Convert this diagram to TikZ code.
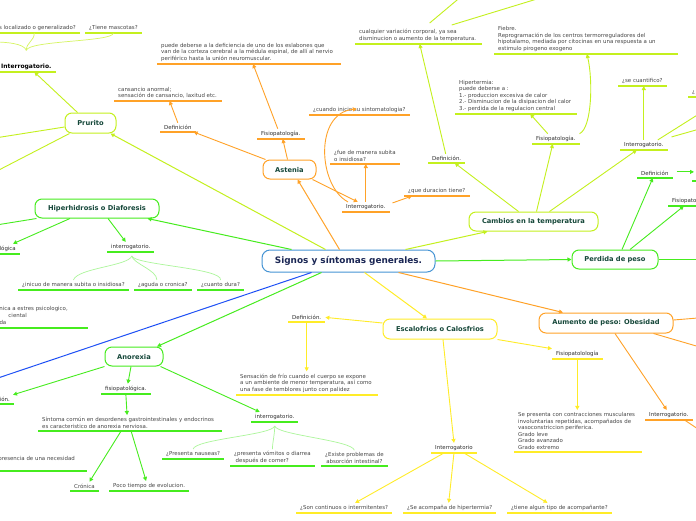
\documentclass[tikz,border=0pt]{standalone}
\usepackage{fontspec}
\setmainfont{DejaVu Sans}
\usetikzlibrary{arrows.meta,calc}
\definecolor{cLime}{RGB}{196,240,30}
\definecolor{cOrange}{RGB}{255,162,40}
\definecolor{cGreen}{RGB}{70,236,30}
\definecolor{cYellow}{RGB}{255,236,40}
\definecolor{cBlue}{RGB}{30,80,245}
\definecolor{cBlueB}{RGB}{70,148,212}
\definecolor{tTopic}{RGB}{22,72,58}
\definecolor{tMain}{RGB}{26,38,84}
\definecolor{tText}{RGB}{70,70,70}
\definecolor{tLab}{RGB}{45,45,45}
\tikzset{
 topic/.style={draw=#1, line width=1pt, rounded corners=7pt, fill=white, font=\fontsize{6.7}{8}\selectfont\bfseries, text=tTopic, inner sep=0pt, minimum height=19pt},
 leaf/.style={font=\fontsize{5.45}{6.7}\selectfont, text=tText, align=left, inner xsep=4pt, inner ysep=2.2pt, anchor=south west},
 lab/.style={leaf, text=tLab},
 ul/.style={line width=1.6pt},
 arr/.style={line width=0.9pt, -{Triangle[length=4pt,width=4pt]}},
 ln/.style={line width=0.9pt},
 lc/.style={line width=0.7pt},
}
\begin{document}
\begin{tikzpicture}[x=1pt,y=-1pt]
\useasboundingbox (0,0) rectangle (696,520);
\fill[white] (0,0) rectangle (696,520);
\clip (0,0) rectangle (696,520);

% ---------- topics ----------
\node[topic=cBlueB, minimum width=173pt, minimum height=22pt, rounded corners=8pt, font=\fontsize{8.9}{10}\selectfont\bfseries, text=tMain] (central) at (348.5,261) {Signos y síntomas generales.};
\node[topic=cLime, minimum width=51pt, minimum height=20pt] (prurito) at (90.5,123) {Prurito};
\node[topic=cOrange, minimum width=53pt] (astenia) at (289.5,169.5) {Astenia};
\node[topic=cGreen, minimum width=124pt] (hiper) at (97,208.5) {Hiperhidrosis o Diaforesis};
\node[topic=cLime, minimum width=129pt] (cambios) at (533.5,221.5) {Cambios en la temperatura};
\node[topic=cGreen, minimum width=86pt] (perdida) at (615,259.5) {Perdida de peso};
\node[topic=cOrange, minimum width=134pt, minimum height=20pt] (aumento) at (606,323) {Aumento de peso: Obesidad};
\node[topic=cYellow, minimum width=114pt, minimum height=20pt] (escal) at (440,329) {Escalofrios o Calosfrios};
\node[topic=cGreen, minimum width=58pt] (anorexia) at (134,356.5) {Anorexia};

% ---------- Prurito ----------
\node[lab, font=\fontsize{6}{7}\selectfont\bfseries, text=black] (pI) at (-3,72) {Interrogatorio.};
\node[leaf, anchor=south east] (pQ1) at (80,33) {¿Es localizado o generalizado?};
\node[leaf] (pQ2) at (85,33) {¿Tiene mascotas?};

% ---------- Astenia ----------
\node[lab] (aDef) at (160,132) {Definición};
\node[leaf] (aDefT) at (114,101) {cansancio anormal;\\sensación de cansancio, laxitud etc.};
\node[lab] (aFis) at (257,139) {Fisiopatología.};
\node[leaf] (aFisT) at (157,64) {puede deberse a la deficiencia de uno de los eslabones que\\van de la corteza cerebral a la médula espinal, de allí al nervio\\periférico hasta la unión neuromuscular.};
\node[lab] (aInt) at (342,212) {Interrogatorio.};
\node[leaf] (aQ1) at (330,164) {¿fue de manera subita\\o insidiosa?};
\node[leaf] (aQ2) at (309,115) {¿cuando inicio su sintomatologia?};
\node[leaf] (aQ3) at (404,196) {¿que duracion tiene?};

% ---------- Cambios ----------
\node[lab] (cDef) at (428,163) {Definición.};
\node[leaf] (cDefT) at (355,44) {cualquier variación corporal, ya sea\\disminucion o aumento de la temperatura.};
\node[lab] (cFis) at (532,144) {Fisiopatología.};
\node[leaf, font=\fontsize{5.45}{6.5}\selectfont] (cFisT1) at (455,114) {Hipertermia:\\puede deberse a :\\1.- produccion excesiva de calor\\2.- Disminucion de la disipacion del calor\\3.- perdida de la regulacion central};
\node[leaf] (cFisT2) at (494,54) {Fiebre.\\Reprogramación de los centros termorreguladores del\\hipotalamo, mediada por citocinas en una respuesta a un\\estimulo pirogeno exogeno};
\node[lab] (cInt) at (620,150) {Interrogatorio.};
\node[leaf] (cQ1) at (618,86) {¿se cuantifico?};
\node[leaf] (cQ2) at (688,97) {¿};

% ---------- Perdida ----------
\node[lab] (pdDef) at (637,178) {Definición};
\node[lab] (pdFis) at (668,206) {Fisiopatología};

% ---------- Aumento ----------
\node[lab] (auInt) at (645,420) {Interrogatorio.};

% ---------- Escalofrios ----------
\node[lab] (eDef) at (288,322) {Definición.};
\node[leaf] (eDefT) at (236,395) {Sensación de frío cuando el cuerpo se expone\\a un ambiente de menor temperatura, así como\\una fase de temblores junto con palidez};
\node[lab] (eFis) at (552,359) {Fisiopatolología};
\node[leaf, font=\fontsize{5.45}{6.6}\selectfont] (eFisT) at (514,452) {Se presenta con contracciones musculares\\involuntarias repetidas, acompañados de\\vasoconstriccion periferica.\\Grado leve\\Grado avanzado\\Grado extremo};
\node[lab] (eInt) at (431,453) {Interrogatorio};
\node[leaf] (eQ1) at (296,513) {¿Son continuos o intermitentes?};
\node[leaf] (eQ2) at (403,513) {¿Se acompaña de hipertermia?};
\node[leaf] (eQ3) at (507,513) {¿tiene algun tipo de acompañante?};

% ---------- Hiperhidrosis ----------
\node[lab, anchor=south east] (hFis) at (20,254) {Fisiopatológica};
\node[lab] (hInt) at (107,252) {interrogatorio.};
\node[leaf] (hQ1) at (18,290) {¿inicuo de manera subita o insidiosa?};
\node[leaf] (hQ2) at (134,290) {¿aguda o cronica?};
\node[leaf] (hQ3) at (197,290) {¿cuanto dura?};
\node[leaf, anchor=east] (hT1) at (72,309) {crónica a estres psicologico,};
\node[leaf, anchor=east] (hT2) at (31,315.5) {ciental};
\node[leaf, anchor=east] (hT3) at (10.5,322) {da};
\coordinate (hTa) at (-5,328);
\coordinate (hTb) at (88,328);

% ---------- Anorexia ----------
\node[lab, anchor=south east] (anDef) at (14,404) {Definición.};
\node[lab] (anFis) at (101,394) {fisiopatológica.};
\node[leaf] (anFisT) at (38,431) {Síntoma común en desordenes gastrointestinales y endocrinos\\es caracteristico de anorexia nerviosa.};
\node[leaf] (anC) at (70,491) {Crónica};
\node[leaf] (anP) at (109,491) {Poco tiempo de evolucion.};
\node[leaf, anchor=east] (anL) at (79,459) {presencia de una necesidad};
\coordinate (anLa) at (-5,471);
\coordinate (anLb) at (87,471);
\node[lab] (anInt) at (251,422) {interrogatorio.};
\node[leaf] (anQ1) at (162,459) {¿Presenta nauseas?};
\node[leaf] (anQ2) at (230,466) {¿presenta vómitos o diarrea\\\hspace*{1.5pt}después de comer?};
\node[leaf, align=center] (anQ3) at (321,466) {¿Existe problemas de\\absorción intestinal?};

% ---------- underlines ----------
\foreach \n/\c in {pI/cLime,pQ1/cLime,pQ2/cLime,
  aDef/cOrange,aFis/cOrange,aInt/cOrange,aQ1/cOrange,aQ2/cOrange,aQ3/cOrange,
  cDef/cLime,cFis/cLime,cInt/cLime,cQ1/cLime,cQ2/cLime,
  pdDef/cGreen,pdFis/cGreen,auInt/cOrange,
  eDef/cYellow,eFis/cYellow,eInt/cYellow,eQ1/cYellow,eQ2/cYellow,eQ3/cYellow,
  hFis/cGreen,hInt/cGreen,hQ1/cGreen,hQ2/cGreen,hQ3/cGreen,
  anDef/cGreen,anFis/cGreen,anC/cGreen,anP/cGreen,anInt/cGreen,anQ1/cGreen,anQ2/cGreen,anQ3/cGreen}
  \draw[ul,draw=\c] (\n.south west) -- (\n.south east);
% long texts: underlines of measured length
\foreach \n/\c/\w in {aDefT/cOrange/108, aFisT/cOrange/184, cDefT/cLime/127, cFisT1/cLime/122,
  cFisT2/cLime/184, eDefT/cYellow/142, eFisT/cYellow/128, anFisT/cGreen/184}
  \draw[ul,draw=\c] (\n.south west) -- ([xshift=\w pt]\n.south west);
\draw[ul,cGreen] (hTa) -- (hTb);
\draw[ul,cGreen] (anLa) -- (anLb);

% ---------- off-picture coordinates ----------
\coordinate (offPa) at (-5,138);
\coordinate (offPb) at (-5,172);
\coordinate (offPI) at (-5,42);
\coordinate (offBl) at (-5,379);
\coordinate (offCa) at (463,-5);
\coordinate (offCb) at (550,-5);
\coordinate (offIa) at (710,107);
\coordinate (offIb) at (710,126);
\coordinate (pdDefOff) at (694,171);
\coordinate (pdUa) at (692,181);
\coordinate (pdUb) at (700,181);
\coordinate (offPd) at (700,259.5);
\coordinate (offAa) at (710,317);
\coordinate (offAb) at (710,350);
\coordinate (offAc) at (710,437);
\coordinate (offH) at (-10,226);

% ---------- connectors from the centre ----------
\draw[arr,cLime,line width=1pt] ([xshift=64pt]central.north west) -- ([xshift=-6pt]prurito.south east);
\draw[arr,cGreen,line width=1pt] ([xshift=30pt]central.north west) -- ([xshift=-12pt]hiper.south east);
\draw[arr,cOrange,line width=1pt] ([xshift=78pt]central.north west) -- ([xshift=8pt]astenia.south);
\draw[arr,cLime,line width=1pt] ([xshift=-30pt]central.north east) -- ([xshift=-46pt]cambios.south);
\draw[arr,cGreen,line width=1pt] (central.east) -- (perdida.west);
\draw[arr,cOrange,line width=1pt] ([xshift=-37pt]central.south east) -- ([xshift=-43pt]aumento.north);
\draw[arr,cYellow,line width=1pt] ([xshift=103pt]central.south west) -- ([xshift=-13pt]escal.north);
\draw[arr,cGreen,line width=1pt] ([xshift=60pt]central.south west) -- ([xshift=23pt]anorexia.north);
\draw[ln,cBlue,line width=1pt] ([xshift=50pt]central.south west) -- (offBl);

% ---------- Prurito ----------
\draw[arr,cLime] ([xshift=-13pt]prurito.north) -- ([xshift=8pt]pI.south);
\draw[ln,cLime] ([yshift=-4pt]prurito.west) -- (offPa);
\draw[ln,cLime] ([xshift=5pt]prurito.south west) -- (offPb);
\coordinate (pIc) at ([yshift=11pt]pI.north);
\draw[lc,cLime!70] (pIc) .. controls +(0,-8) and +(0,8) .. (pQ1.south);
\draw[lc,cLime!70] (pIc) .. controls +(2,-10) and +(0,9) .. (pQ2.south);
\draw[lc,cLime!70] (pIc) .. controls +(-2,-7) and +(10,0) .. (offPI);

% ---------- Astenia ----------
\draw[arr,cOrange] ([xshift=3pt]astenia.north west) -- ([xshift=-2pt]aDef.south east);
\draw[arr,cOrange] (aDef.north) -- ([xshift=2pt]aDefT.south);
\draw[arr,cOrange] ([xshift=-2pt]astenia.north) -- ([xshift=2pt]aFis.south);
\draw[arr,cOrange] ([xshift=-3pt]aFis.north) -- ([xshift=6pt]aFisT.south);
\draw[arr,cOrange] ([xshift=-4pt]astenia.south east) -- ([xshift=-8pt]aInt.north);
\draw[arr,cOrange] (aInt.north) -- (aInt.north |- aQ1.south);
\draw[arr,cOrange] ([xshift=6pt]aInt.north west) .. controls (318,186) and (314,113) .. ([xshift=-2.5pt,yshift=6pt]aQ2.south);
\draw[arr,cOrange] ([xshift=3pt,yshift=-1pt]aInt.north east) -- ([xshift=8pt]aQ3.south west);

% ---------- Cambios ----------
\draw[arr,cLime] ([xshift=-15pt]cambios.north) -- ([xshift=8pt]cDef.south);
\draw[arr,cLime] ([xshift=-1pt]cDef.north) -- ([xshift=2pt]cDefT.south);
\draw[ln,cLime] ([xshift=12pt,yshift=4pt]cDefT.north) -- (offCa);
\draw[ln,cLime] ([xshift=34pt,yshift=2pt]cDefT.north) -- (offCb);
\draw[arr,cLime] ([xshift=3pt]cambios.north) -- ([xshift=-3pt]cFis.south);
\draw[arr,cLime] ([xshift=-8pt]cFis.north) -- ([xshift=15pt]cFisT1.south);
\draw[arr,cLime] (cFis.north east) .. controls (592,128) and (593,80) .. ([xshift=10pt]cFisT2.south);
\draw[arr,cLime] ([xshift=16pt]cambios.north) -- ([xshift=-7pt]cInt.south);
\draw[arr,cLime] (cInt.north) -- (cInt.north |- cQ1.south);
\draw[ln,cLime] ([xshift=14pt]cInt.north) -- (offIa);
\draw[ln,cLime] ([xshift=4pt,yshift=3pt]cInt.north east) -- (offIb);

% ---------- Perdida ----------
\draw[arr,cGreen] ([xshift=7pt]perdida.north) -- ([xshift=-2pt]pdDef.south);
\draw[arr,cGreen] ([xshift=15pt]perdida.north) -- ([xshift=-7pt]pdFis.south);
\draw[arr,cGreen] ([xshift=4pt,yshift=1.5pt]pdDef.east) -- ([yshift=1.5pt]pdDef.east -| pdDefOff);
\draw[ul,cGreen] (pdUa) -- (pdUb);
\draw[ln,cGreen] (perdida.east) -- (offPd);

% ---------- Aumento ----------
\draw[arr,cOrange] ([xshift=9pt]aumento.south) -- ([xshift=-2pt]auInt.north);
\draw[ln,cOrange] ([yshift=3pt]aumento.east) -- (offAa);
\draw[ln,cOrange] ([xshift=-20pt]aumento.south east) -- (offAb);
\draw[ln,cOrange] ([xshift=-8pt]auInt.south east) -- (offAc);

% ---------- Escalofrios ----------
\draw[arr,cYellow] ([yshift=6pt]escal.west) -- (eDef.east);
\draw[arr,cYellow] (eDef.south) -- (eDef.south |- eDefT.north);
\draw[arr,cYellow] ([xshift=3pt]escal.south) -- (eInt.north);
\draw[arr,cYellow] (escal.south east) -- (eFis.north west);
\draw[arr,cYellow] (eFis.south) -- (eFis.south |- eFisT.north);
\draw[arr,cYellow] ([xshift=-10pt]eInt.south) -- ([xshift=11pt]eQ1.north);
\draw[arr,cYellow] (eInt.south) -- ([xshift=-1pt]eQ2.north);
\draw[arr,cYellow] ([xshift=10pt]eInt.south) -- ([xshift=-12pt]eQ3.north);

% ---------- Hiperhidrosis ----------
\draw[arr,cGreen] ([xshift=-27pt]hiper.south) -- ([xshift=-7pt]hFis.north east);
\draw[ln,cGreen] ([xshift=2pt]hiper.south west) -- (offH);
\draw[arr,cGreen] ([xshift=11pt]hiper.south) -- ([xshift=-5pt]hInt.north);
\coordinate (hc) at ([xshift=1pt,yshift=-4pt]hInt.south);
\draw[lc,cGreen!45] (hc) .. controls +(-3,10) and +(4,-12) .. (hQ1.north);
\draw[lc,cGreen!45] (hc) .. controls +(2,8) and +(0,-10) .. ([xshift=-6pt]hQ2.north);
\draw[lc,cGreen!45] (hc) .. controls +(3,9) and +(2,-12) .. (hQ3.north);

% ---------- Anorexia ----------
\draw[arr,cGreen] (anorexia.south west) -- ([xshift=-1pt]anDef.north east);
\draw[arr,cGreen] ([xshift=-3pt]anorexia.south) -- ([xshift=2pt]anFis.north);
\draw[arr,cGreen] (anFis.south) -- ([xshift=-1pt]anFisT.north);
\draw[arr,cGreen] ([xshift=-7pt]anFisT.south) -- ([xshift=5pt]anC.north);
\draw[arr,cGreen] ([xshift=3pt]anFisT.south) -- ([xshift=-3pt]anP.north);
\draw[arr,cGreen] ([xshift=-3pt]anorexia.south east) -- ([xshift=-15pt]anInt.north);
\coordinate (ac) at ([yshift=-4pt]anInt.south);
\draw[lc,cGreen!45] (ac) .. controls +(-2,9) and +(2,-10) .. (anQ1.north);
\draw[lc,cGreen!45] (ac) .. controls +(0,8) and +(0,-6) .. (anQ2.north);
\draw[lc,cGreen!45] (ac) .. controls +(2,9) and +(-2,-10) .. (anQ3.north);
\end{tikzpicture}
\end{document}
